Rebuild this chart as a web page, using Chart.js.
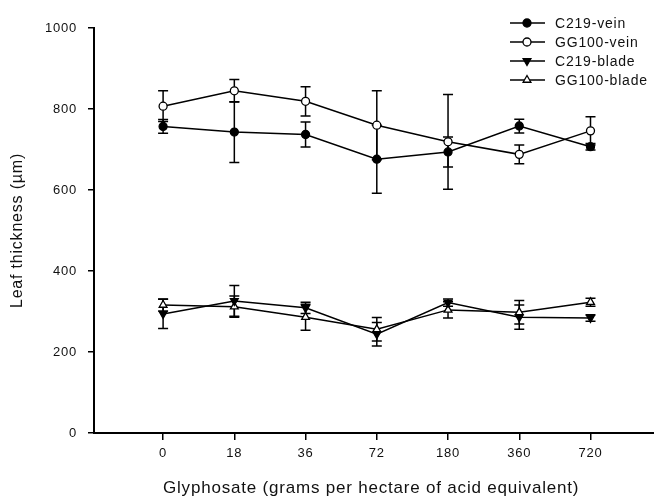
<!DOCTYPE html>
<html>
<head>
<meta charset="utf-8">
<script src="https://cdn.jsdelivr.net/npm/chart.js@4"></script>
<style>
  body { margin: 0; background: #fff; }
  #wrap { width: 654px; height: 500px; }
</style>
</head>
<body>
<div id="wrap"><canvas id="chart" width="654" height="500"></canvas></div>
<script>
// glyphosate doses (category labels)
const doses = ['0', '18', '36', '72', '180', '360', '720'];

// leaf thickness (um) and error bars
const c219Vein = [757, 743, 737, 676, 694, 758, 707];
const c219VeinErr = [17, 75, 31, 84, 37, 17, 8];
const gg100Vein = [807, 845, 819, 760, 719, 688, 746];
const gg100VeinErr = [38, 28, 36, 85, 117, 23, 35];
const c219Blade = [294, 326, 309, 244, 322, 286, 284];
const c219BladeErr = [36, 38, 14, 29, 9, 30, 8];
const gg100Blade = [316, 312, 286, 256, 304, 298, 323];
const gg100BladeErr = [15, 26, 32, 29, 20, 29, 10];

const yTicks = [0, 200, 400, 600, 800, 1000];

const FONT = '"Liberation Sans", Arial, sans-serif';

const toPoints = (vals) => vals.map((v, i) => ({ x: i, y: v }));

const mkSet = (label, vals, errs, style, filled, rot) => ({
  label: label,
  data: toPoints(vals),
  errors: errs,
  borderColor: '#000',
  borderWidth: 1.5,
  pointStyle: style,
  pointRotation: rot || 0,
  pointRadius: style === 'circle' ? 4 : 4.5,
  pointBorderWidth: 1.3,
  pointBorderColor: '#000',
  pointBackgroundColor: filled ? '#000' : '#fff',
  backgroundColor: filled ? '#000' : '#fff',
  tension: 0,
  fill: false,
});

// the original text is slightly letter-spaced
const spacing = {
  id: 'spacing',
  beforeDraw(chart) { chart.ctx.letterSpacing = '0.8px'; }
};

const errorBars = {
  id: 'errorBars',
  beforeDatasetsDraw(chart) {
    const ctx = chart.ctx;
    const xs = chart.scales.x, ys = chart.scales.y;
    ctx.save();
    ctx.strokeStyle = '#000';
    ctx.lineWidth = 1.5;
    chart.data.datasets.forEach(ds => {
      ds.data.forEach((p, i) => {
        const e = ds.errors[i];
        const x = xs.getPixelForValue(p.x);
        const top = ys.getPixelForValue(p.y + e);
        const bot = ys.getPixelForValue(p.y - e);
        ctx.beginPath();
        ctx.moveTo(x, top); ctx.lineTo(x, bot);
        ctx.moveTo(x - 5, top); ctx.lineTo(x + 5, top);
        ctx.moveTo(x - 5, bot); ctx.lineTo(x + 5, bot);
        ctx.stroke();
      });
    });
    // the x axis runs to the right edge in the original
    const ay = Math.round(chart.chartArea.bottom);
    ctx.lineWidth = 2;
    ctx.beginPath();
    ctx.moveTo(chart.chartArea.right - 1, ay);
    ctx.lineTo(chart.width, ay);
    ctx.stroke();
    ctx.restore();
  }
};

// legend with a line segment and marker, like the original
const lineLegend = {
  id: 'lineLegend',
  afterDraw(chart) {
    const ctx = chart.ctx;
    ctx.save();
    chart.data.datasets.forEach((ds, i) => {
      const y = 23 + i * 19;
      ctx.strokeStyle = '#000';
      ctx.lineWidth = 1.5;
      ctx.beginPath();
      ctx.moveTo(510, y); ctx.lineTo(545, y);
      ctx.stroke();
      ctx.fillStyle = ds.pointBackgroundColor;
      ctx.lineWidth = 1.3;
      Chart.helpers.drawPoint(ctx, {
        pointStyle: ds.pointStyle, rotation: ds.pointRotation,
        radius: ds.pointRadius, borderWidth: 1.3
      }, 527, y);
      ctx.fillStyle = '#111';
      ctx.font = '14px ' + FONT;
      ctx.letterSpacing = '0.8px';
      ctx.textBaseline = 'middle';
      ctx.fillText(ds.label, 555, y + 1);
    });
    ctx.restore();
  }
};

new Chart(document.getElementById('chart'), {
  type: 'line',
  data: {
    datasets: [
      mkSet('C219-vein', c219Vein, c219VeinErr, 'circle', true),
      mkSet('GG100-vein', gg100Vein, gg100VeinErr, 'circle', false),
      mkSet('C219-blade', c219Blade, c219BladeErr, 'triangle', true, 180),
      mkSet('GG100-blade', gg100Blade, gg100BladeErr, 'triangle', false),
    ]
  },
  options: {
    responsive: false,
    animation: false,
    layout: { padding: { top: 28, left: 0, right: 0, bottom: 0 } },
    plugins: { legend: { display: false }, tooltip: { enabled: false } },
    scales: {
      x: {
        type: 'linear',
        min: -0.97,
        max: 6.81,
        afterBuildTicks: (s) => { s.ticks = doses.map((d, i) => ({ value: i })); },
        afterFit: (s) => { s.height = 67; },
        ticks: {
          callback: (v) => doses[v],
          color: '#111',
          font: { family: FONT, size: 13 },
          padding: 6,
          maxRotation: 0,
        },
        grid: { drawOnChartArea: false, drawTicks: true, tickLength: 7, color: '#000', lineWidth: 1.5 },
        border: { display: true, color: '#000', width: 2 },
        title: {
          display: true,
          text: 'Glyphosate (grams per hectare of acid equivalent)',
          color: '#111',
          font: { family: FONT, size: 17 },
          padding: { top: 0, bottom: 1 },
        },
      },
      y: {
        min: 0,
        max: 1000,
        afterBuildTicks: (s) => { s.ticks = yTicks.map(v => ({ value: v })); },
        afterFit: (s) => { s.width = 94; },
        ticks: {
          callback: (v) => String(v),
          color: '#111',
          font: { family: FONT, size: 13 },
          padding: 11,
        },
        grid: { drawOnChartArea: false, drawTicks: true, tickLength: 6, color: '#000', lineWidth: 1.5 },
        border: { display: true, color: '#000', width: 2 },
        title: {
          display: true,
          text: 'Leaf thickness (µm)',
          color: '#111',
          font: { family: FONT, size: 16 },
          padding: { top: 8, bottom: 0 },
        },
      },
    },
  },
  plugins: [spacing, errorBars, lineLegend],
});
</script>
</body>
</html>
